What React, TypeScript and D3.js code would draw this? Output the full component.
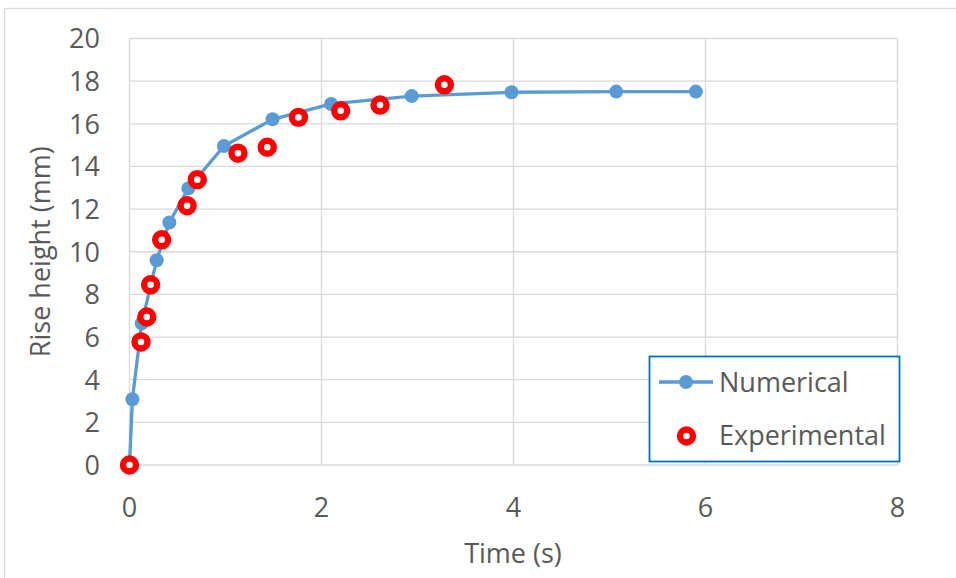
import React from "react";
import * as d3 from "d3";

const numTime = [0, 0.03, 0.127, 0.283, 0.415, 0.613, 0.984, 1.49, 2.1, 2.94, 3.98, 5.07, 5.9];
const numHeight = [0, 3.08, 6.64, 9.6, 11.37, 12.97, 14.96, 16.21, 16.93, 17.3, 17.48, 17.51, 17.51];
const expTime = [0, 0.12, 0.18, 0.22, 0.335, 0.6, 0.706, 1.13, 1.435, 1.76, 2.2, 2.61, 3.28];
const expHeight = [0, 5.77, 6.94, 8.45, 10.56, 12.16, 13.38, 14.62, 14.9, 16.3, 16.61, 16.88, 17.83];
const xTicks = [0, 2, 4, 6, 8];
const yTicks = [0, 2, 4, 6, 8, 10, 12, 14, 16, 18, 20];
const seriesNames = ["Numerical", "Experimental"];
const xTitle = "Time (s)";
const yTitle = "Rise height (mm)";

const W = 956;
const H = 578;
const FONT = "'Open Sans', sans-serif";
const TXT = "#595959";
const GRID = "#D9D9D9";
const BLUE = "#5B9BD5";
const RED = "#FF0000";

export default function App() {
  const x = d3.scaleLinear().domain([0, 8]).range([129.5, 897.5]);
  const y = d3.scaleLinear().domain([0, 20]).range([465, 38.5]);
  const numPts = numTime.map((t, i) => [t, numHeight[i]] as [number, number]);
  const expPts = expTime.map((t, i) => [t, expHeight[i]] as [number, number]);
  const line = d3
    .line<[number, number]>()
    .x((d) => x(d[0]))
    .y((d) => y(d[1]));

  return (
    <svg
      width={W}
      height={H}
      style={{ position: "absolute", left: 0, top: 0, background: "#fff" }}
      fontFamily={FONT}
    >
      <rect x={0} y={0} width={W} height={H} fill="#fff" />
      {/* outer chart frame */}
      <rect x={4.5} y={8.5} width={W + 10} height={H + 10} fill="none" stroke={GRID} strokeWidth={1.3} />
      {/* gridlines */}
      {yTicks.map((t) => (
        <line key={"gy" + t} x1={x(0)} x2={x(8)} y1={y(t)} y2={y(t)} stroke={GRID} strokeWidth={1.3} />
      ))}
      {xTicks.map((t) => (
        <line key={"gx" + t} x1={x(t)} x2={x(t)} y1={y(0)} y2={y(20)} stroke={GRID} strokeWidth={1.3} />
      ))}
      {/* tick labels */}
      {yTicks.map((t) => (
        <text key={"ty" + t} x={100} y={y(t) + 9.8} textAnchor="end" fontSize={27} fill={TXT}>
          {t}
        </text>
      ))}
      {xTicks.map((t) => (
        <text key={"tx" + t} x={x(t)} y={517} textAnchor="middle" fontSize={27} fill={TXT}>
          {t}
        </text>
      ))}
      {/* axis titles */}
      <text x={513} y={563} textAnchor="middle" fontSize={27} fill={TXT}>
        {xTitle}
      </text>
      <text
        transform={`translate(50,${(y(0) + y(20)) / 2}) rotate(-90)`}
        textAnchor="middle"
        fontSize={27}
        fill={TXT}
      >
        {yTitle}
      </text>
      {/* numerical series */}
      <path d={line(numPts) || ""} fill="none" stroke={BLUE} strokeWidth={3.3} strokeLinejoin="round" />
      {numPts.map((d, i) => (
        <circle key={"n" + i} cx={x(d[0])} cy={y(d[1])} r={7} fill={BLUE} />
      ))}
      {/* experimental series */}
      {expPts.map((d, i) => (
        <circle key={"e" + i} cx={x(d[0])} cy={y(d[1])} r={6.5} fill="#fff" stroke={RED} strokeWidth={6.4} />
      ))}
      {/* legend */}
      <rect x={649.5} y={356.5} width={250} height={105} fill="#fff" stroke="#0070C0" strokeWidth={1.8} />
      <line x1={659} x2={713} y1={382} y2={382} stroke={BLUE} strokeWidth={3.3} />
      <circle cx={686} cy={382} r={7} fill={BLUE} />
      <text x={719} y={391.7} fontSize={27} fill={TXT}>
        {seriesNames[0]}
      </text>
      <circle cx={686.5} cy={436} r={6.5} fill="#fff" stroke={RED} strokeWidth={6.4} />
      <text x={719} y={445} fontSize={27} fill={TXT}>
        {seriesNames[1]}
      </text>
    </svg>
  );
}
